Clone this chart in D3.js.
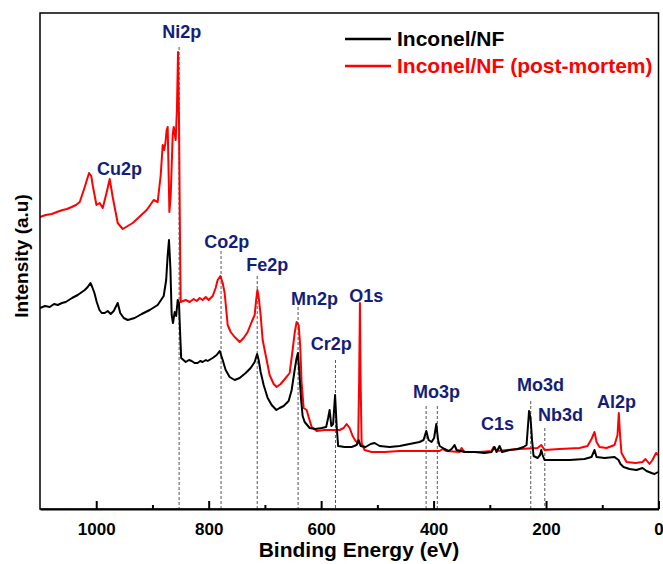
<!DOCTYPE html>
<html>
<head>
<meta charset="utf-8">
<script src="https://cdn.jsdelivr.net/npm/d3@7"></script>
<style>
  html, body { margin: 0; padding: 0; background: #fff; }
  svg { display: block; font-family: "Liberation Sans", Arial, sans-serif; }
</style>
</head>
<body>
<svg id="chart" width="663" height="564"></svg>
<script>
// ---- Data (binding energy eV, intensity a.u.) ----
const pristineEV = [1100,1091,1082.7,1075,1068.4,1061,1054.2,1043,1032.9,1020.4,1015.1,1010.3,1007.1,1003.2,999.1,994.3,990.2,984.9,979.6,974.2,968.9,961.8,957.3,951.1,944,931.6,919.1,904.9,890.7,880,875.6,872.9,870.6,868.1,865.8,863.5,860.4,857.8,855.1,852.8,851,848.9,840.9,835,830.2,825,819.6,815,810.7,805,801.8,792.9,785.8,780.4,775.1,769.8,762.7,753.8,744.9,734.2,725.3,718.2,713.8,711.1,707.6,702.2,695.1,688,679.6,673.8,666.7,657.8,652.4,647.1,643.6,641.3,639.1,635.6,632.9,629.3,620.4,609.8,599.1,591.1,587.6,584.9,581.9,578.7,575.2,572.5,569.8,558.2,545.8,536.9,533.3,529.8,520.9,512,504.9,496,478.2,460.4,442.7,424.9,417.8,413,408.9,403.6,399.1,395.2,392,389.3,380.4,373.3,368,362.7,359.1,344.9,327.1,309.3,296.9,291.6,288,282.7,278.2,264.9,250.7,240,234.7,232,230.2,227.6,224.9,222.2,215.1,210.7,208.5,206.2,202.7,184.9,158.2,131.6,119.1,113.8,110.2,96,78.2,71.1,67.6,62.2,51.6,39.1,28.4,21.3,12.4,7.1,0.9];
const pristineI = [201,203,202,205,204,206,207,211,214,219,222,226,222,216,207,199,196,196,198,195,198,206,196,191,189,191,195,199,204,213,229,254,269,241,194,186,197,193,209,206,179,151,147,149,148,146,146,148,147,149,148,151,154,158,149,139,132,129,131,136,141,147,155,149,137,124,111,104,99,101,103,108,119,139,151,156,139,109,93,87,81,80,81,82,91,99,83,85,114,84,63,62,62,64,69,63,62,65,66,63,62,63,65,67,69,78,69,67,71,85,69,63,60,58,60,64,59,57,57,56,57,62,57,63,57,59,60,62,64,84,98,91,69,53,51,54,59,54,49,49,49,50,52,59,52,51,52,49,45,42,40,39,41,38,36,35,37];

const postEV = [1100,1090,1079,1070,1059.6,1052,1043.6,1036,1029.3,1020.4,1012.8,1008.9,1005.7,999.6,993.8,988.4,981.3,976,970.7,961.8,952.9,935.1,910.2,897.8,890.7,885.3,881.8,879.1,877,874.7,872.9,869.9,867.6,864,862.2,858.7,856.5,854.5,852.8,851,849.8,840.9,833.8,826.7,821.3,816,810.7,805.3,800,792.9,787.6,784,779.2,775.1,771.6,766.2,760.9,753.8,744.9,737.8,730.7,723.6,718.2,715.6,713.4,711.1,707.6,704,696.9,691.6,684.4,679.1,672,663.1,656,650.7,647.1,643.6,640,637.3,634.7,631.1,625.8,622.2,616.9,608,593.8,576,567.1,560,554.7,549.3,544,538.7,534.2,532.4,531,529.8,528,522.7,510.2,487.1,460.4,424.9,389.3,384,376.9,353.8,350.2,344.9,318.2,296.9,293.3,288,247.1,215.1,208.5,202.7,176,140.4,126.2,119.1,113.8,110.2,104.9,92.4,78.2,72.9,70.6,68.4,65.8,56.9,40.9,28.4,23.1,16,10.7,4.4,0.9];
const postI = [292,294,295,297,299,300,302,304,307,322,336,333,322,304,306,301,317,330,312,286,280,286,299,309,307,334,364,359,366,379,382,297,312,374,382,369,399,457,389,269,207,209,207,210,208,211,209,212,209,213,221,229,233,226,216,184,177,172,167,171,177,187,194,209,219,212,194,169,149,134,125,122,125,131,136,159,176,187,184,164,126,101,99,92,82,78,79,79,79,81,85,81,73,68,66,129,206,129,66,59,57,57,58,58,58,60,58,57,61,57,57,58,62,58,60,61,64,59,60,61,63,70,77,67,62,61,64,74,96,74,56,47,46,47,50,45,49,56,54];

const seriesNames = ["Inconel/NF", "Inconel/NF (post-mortem)"];
const seriesColors = ["#000000", "#ff0000"];

const majorTicks = [1000, 800, 600, 400, 200, 0];
const minorTicks = [900, 700, 500, 300, 100];

// Peak annotations
const peakNames  = ["Ni2p", "Cu2p", "Co2p", "Fe2p", "Mn2p", "O1s", "Cr2p", "Mo3p", "C1s", "Mo3d", "Nb3d", "Al2p"];
const labelEV    = [848, 958.8, 768, 696, 611.6, 519.6, 581.9, 394.7, 286.2, 209.8, 174.2, 74.7];
const labelI     = [471, 334, 261, 238, 204, 207, 159, 111, 79, 118, 88, 101];
const dropEV     = [[852.6], [], [778], [713.7], [641], [], [574.5], [413.3, 393.4], [], [227.2], [202.2], []];
const dropTopI   = [462, 0, 258, 233, 202, 0, 149, 103, 0, 108, 81, 0];

// ---- Drawing ----
const svg = d3.select("#chart");
const m = { left: 40, right: 658.5, top: 13, bottom: 509 };

const x = d3.scaleLinear().domain([1100, 0]).range([m.left, m.right]);
const y = d3.scaleLinear().domain([0, 496]).range([m.bottom, m.top]);

// dashed guide lines
const drops = [];
peakNames.forEach((n, i) => dropEV[i].forEach(ev => drops.push({ ev, top: dropTopI[i] })));
svg.append("g").selectAll("line").data(drops).join("line")
  .attr("x1", d => x(d.ev)).attr("x2", d => x(d.ev))
  .attr("y1", d => y(d.top)).attr("y2", m.bottom)
  .attr("stroke", "#555").attr("stroke-width", 1).attr("stroke-dasharray", "3,2");

const line = d3.line().x(d => x(d[0])).y(d => y(d[1]));
const postData = postEV.map((e, i) => [e, postI[i]]);
const priData = pristineEV.map((e, i) => [e, pristineI[i]]);

svg.append("path").datum(postData).attr("d", line)
  .attr("fill", "none").attr("stroke", seriesColors[1]).attr("stroke-width", 2).attr("stroke-linejoin", "round");
svg.append("path").datum(priData).attr("d", line)
  .attr("fill", "none").attr("stroke", seriesColors[0]).attr("stroke-width", 2).attr("stroke-linejoin", "round");

// frame
svg.append("rect").attr("x", m.left).attr("y", m.top)
  .attr("width", m.right - m.left).attr("height", m.bottom - m.top)
  .attr("fill", "none").attr("stroke", "#000").attr("stroke-width", 1.5);

// x axis
const gx = svg.append("g").attr("transform", `translate(0,${m.bottom})`)
  .call(d3.axisBottom(x).tickValues(majorTicks).tickSize(-8).tickSizeOuter(0).tickPadding(14).tickFormat(d3.format("d")));
gx.select(".domain").attr("stroke-width", 2.2);
gx.selectAll(".tick line").attr("stroke-width", 2);
gx.selectAll(".tick text").attr("font-size", 17).attr("font-weight", "bold")
  .attr("font-family", "'Liberation Sans', Arial, sans-serif").attr("fill", "#000");
svg.append("g").attr("transform", `translate(0,${m.bottom})`)
  .call(d3.axisBottom(x).tickValues(minorTicks).tickSize(-4).tickSizeOuter(0).tickFormat(""))
  .call(g => g.select(".domain").remove())
  .selectAll(".tick line").attr("stroke-width", 2);

// axis titles
svg.append("text").attr("x", 359).attr("y", 557).attr("text-anchor", "middle")
  .attr("font-size", 21).attr("font-weight", "bold").text("Binding Energy (eV)");
svg.append("text").attr("transform", "translate(28,256) rotate(-90)").attr("text-anchor", "middle")
  .attr("font-size", 19).attr("font-weight", "bold").text("Intensity (a.u)");

// peak labels
svg.append("g").selectAll("text").data(peakNames).join("text")
  .attr("x", (d, i) => x(labelEV[i])).attr("y", (d, i) => y(labelI[i]))
  .attr("text-anchor", "middle").attr("font-size", 18).attr("font-weight", "bold")
  .attr("fill", "#141e78").text(d => d);

// legend
const lg = svg.append("g");
seriesNames.forEach((n, i) => {
  const yy = 39 + i * 27;
  lg.append("line").attr("x1", 345).attr("x2", 391).attr("y1", yy).attr("y2", yy)
    .attr("stroke", seriesColors[i]).attr("stroke-width", 2.5);
  lg.append("text").attr("x", 397).attr("y", yy + 7).attr("font-size", 21).attr("font-weight", "bold")
    .attr("fill", seriesColors[i]).text(n);
});
</script>
</body>
</html>
